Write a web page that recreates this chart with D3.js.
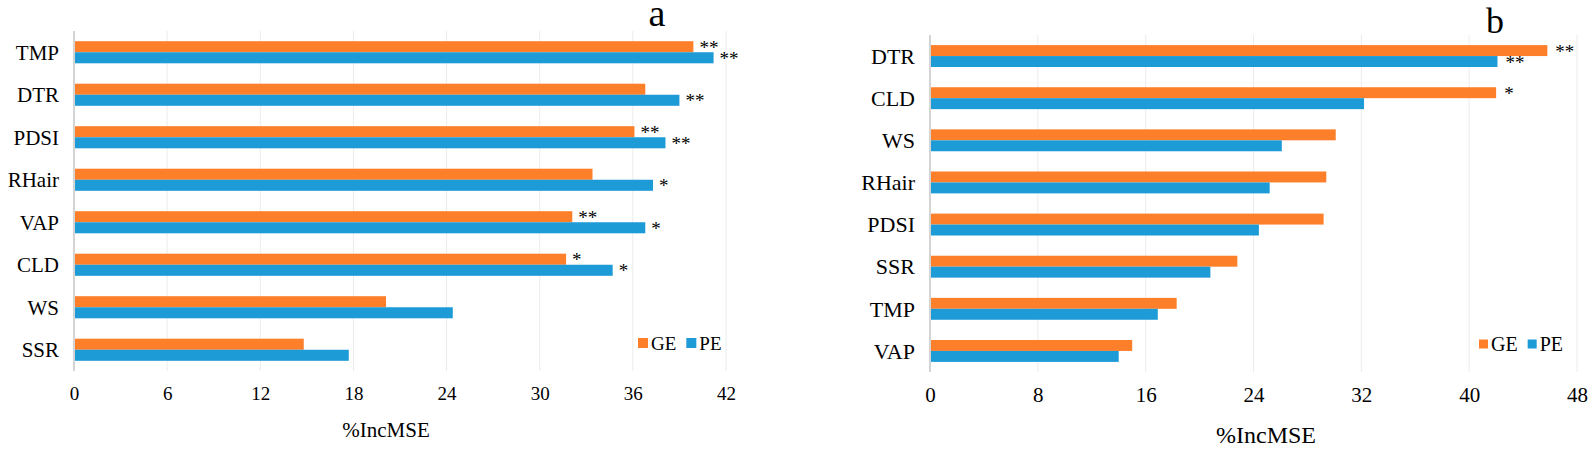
<!DOCTYPE html>
<html><head><meta charset="utf-8">
<script src="https://cdn.jsdelivr.net/npm/d3@7"></script>
<style>body{margin:0;background:#fff}svg{display:block}text{font-family:"Liberation Serif","Times New Roman",serif;fill:#000}</style>
</head><body><svg id="c" width="1593" height="455"></svg>
<script>
// ---- Data: panel a ----
const catsA = ["TMP","DTR","PDSI","RHair","VAP","CLD","WS","SSR"];
const geA   = [39.9, 36.8, 36.1, 33.4, 32.1, 31.7, 20.1, 14.8];
const peA   = [41.2, 39.0, 38.1, 37.3, 36.8, 34.7, 24.4, 17.7];
const sigGeA = ["**","","**","","**","*","",""];
const sigPeA = ["**","**","**","*","*","*","",""];
const ticksA = [0,6,12,18,24,30,36,42];
// ---- Data: panel b ----
const catsB = ["DTR","CLD","WS","RHair","PDSI","SSR","TMP","VAP"];
const geB   = [45.8, 42.0, 30.1, 29.4, 29.2, 22.8, 18.3, 15.0];
const peB   = [42.1, 32.2, 26.1, 25.2, 24.4, 20.8, 16.9, 14.0];
const sigGeB = ["**","*","","","","","",""];
const sigPeB = ["**","","","","","","",""];
const ticksB = [0,8,16,24,32,40,48];
const seriesNames = ["GE","PE"];
const colors = {GE:"#fe7f2a", PE:"#1d9bd7"};

const svg = d3.select("#c");

function panel(cfg){
  const g = svg.append("g");
  const x = d3.scaleLinear().domain([0, cfg.ticks[cfg.ticks.length-1]]).range([cfg.x0, cfg.x1]);
  const y = d3.scaleBand().domain(cfg.cats).range([cfg.y0, cfg.y1]).paddingInner(0.48).paddingOuter(0.24);
  const sub = d3.scaleBand().domain(seriesNames).range([0, y.bandwidth()]);
  // gridlines
  g.selectAll("line.grid").data(cfg.ticks.slice(1)).join("line")
    .attr("x1", d=>x(d)).attr("x2", d=>x(d)).attr("y1", cfg.y0).attr("y2", cfg.y1)
    .attr("stroke", "#ececec").attr("stroke-width", 1);
  // x axis labels
  const ax = d3.axisBottom(x).tickValues(cfg.ticks).tickSize(0).tickPadding(cfg.tickPad);
  const axg = g.append("g").attr("transform", `translate(0,${cfg.y1})`).call(ax);
  axg.select(".domain").remove();
  axg.selectAll("text").attr("font-size", cfg.tickFs).attr("font-family", "Liberation Serif").attr("fill","#000");
  // bars
  const rows = cfg.cats.map((c,i)=>({c, GE:cfg.ge[i], PE:cfg.pe[i], sGE:cfg.sigGe[i], sPE:cfg.sigPe[i]}));
  const rg = g.selectAll("g.row").data(rows).join("g").attr("transform", d=>`translate(0,${y(d.c)})`);
  seriesNames.forEach(s=>{
    rg.append("rect").attr("x", x(0)).attr("y", sub(s)).attr("height", sub.bandwidth())
      .attr("width", d=>x(d[s])-x(0)).attr("fill", colors[s]);
    rg.filter(d=>d["s"+s]).append("text")
      .attr("x", d=>x(d[s])+cfg.starGap).attr("y", sub(s)+sub.bandwidth()/2+cfg.starDy)
      .attr("font-size", cfg.starFs).text(d=>d["s"+s]);
  });
  // vertical axis line
  g.append("line").attr("x1", x(0)).attr("x2", x(0)).attr("y1", cfg.y0).attr("y2", cfg.y1)
    .attr("stroke", "#d4d4d4").attr("stroke-width", 2);
  // category labels
  g.selectAll("text.cat").data(cfg.cats).join("text")
    .attr("x", cfg.labelX).attr("y", d=>y(d)+y.bandwidth()/2).attr("dy","0.35em")
    .attr("text-anchor","end").attr("font-size", cfg.catFs).text(d=>d);
  // axis title
  g.append("text").attr("x", cfg.titleX).attr("y", cfg.titleY).attr("text-anchor","middle")
    .attr("font-size", cfg.titleFs).text("%IncMSE");
  // panel letter
  g.append("text").attr("x", cfg.letterX).attr("y", cfg.letterY).attr("text-anchor","middle")
    .attr("font-size", cfg.letterFs).text(cfg.letter);
  // legend
  let lx = cfg.legX;
  seriesNames.forEach(s=>{
    g.append("rect").attr("x", lx).attr("y", cfg.legY-cfg.sq/2).attr("width", cfg.sq).attr("height", cfg.sq).attr("fill", colors[s]);
    const t = g.append("text").attr("x", lx+cfg.sq+3).attr("y", cfg.legY).attr("dy","0.35em")
      .attr("font-size", cfg.legFs).text(s);
    lx += cfg.sq + 3 + t.node().getComputedTextLength() + 10;
  });
}

panel({cats:catsA, ge:geA, pe:peA, sigGe:sigGeA, sigPe:sigPeA, ticks:ticksA,
  x0:74, x1:726, y0:31, y1:371, tickPad:16, tickFs:19, catFs:21, starFs:19, starGap:6, starDy:7,
  labelX:59, titleX:386, titleY:437, titleFs:21, letter:"a", letterX:657, letterY:26, letterFs:38,
  legX:638, legY:343, sq:10, legFs:19});
panel({cats:catsB, ge:geB, pe:peB, sigGe:sigGeB, sigPe:sigPeB, ticks:ticksB,
  x0:930, x1:1577, y0:35, y1:372, tickPad:15, tickFs:21, catFs:22, starFs:19, starGap:8, starDy:7,
  labelX:915, titleX:1266, titleY:443, titleFs:24, letter:"b", letterX:1495, letterY:33, letterFs:36,
  legX:1479, legY:344, sq:9, legFs:20});
</script></body></html>
